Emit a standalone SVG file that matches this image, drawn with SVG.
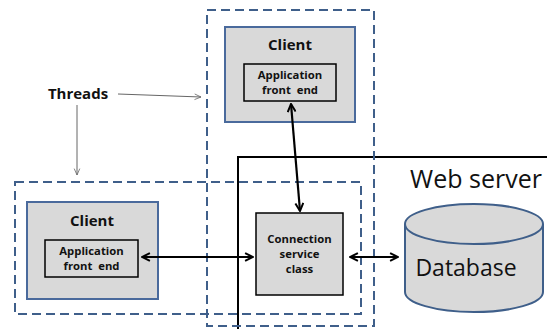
<svg xmlns="http://www.w3.org/2000/svg" width="547" height="329" viewBox="0 0 547 329">
<style>
.dash{fill:none;stroke:#3f5f8a;stroke-width:2;stroke-dasharray:9 5}
.client{fill:#d9d9d9;stroke:#4a6a9c;stroke-width:2}
.inner{fill:#d9d9d9;stroke:#000;stroke-width:1.5}
.t{font-family:"Open Sans","Liberation Sans",sans-serif;font-weight:bold;fill:#111;text-anchor:middle}
.big{font-family:"Open Sans","Liberation Sans",sans-serif;fill:#111;text-anchor:middle}
.con{fill:none;stroke:#000;stroke-width:2.2}
.thin{fill:none;stroke:#666;stroke-width:1}
</style>
<defs>
<marker id="ah" viewBox="0 0 10 10" refX="9" refY="5" markerWidth="4.5" markerHeight="4.5" orient="auto-start-reverse" markerUnits="strokeWidth">
<path d="M1,1 L9,5 L1,9" fill="none" stroke="#000" stroke-width="2"/>
</marker>
<marker id="th" viewBox="0 0 10 10" refX="9" refY="5" markerWidth="8" markerHeight="8" orient="auto" markerUnits="strokeWidth">
<path d="M1,1.5 L9,5 L1,8.5" fill="none" stroke="#666" stroke-width="1"/>
</marker>
</defs>
<rect width="547" height="329" fill="#fff"/>
<g id="webserver">
<path d="M238,329 V157 H547" fill="none" stroke="#000" stroke-width="2"/>
<text x="476" y="188" class="big" font-size="25">Web server</text>
</g>
<g id="thread-top"><rect x="207" y="10" width="167" height="316" class="dash"/></g>
<g id="thread-left"><rect x="15" y="182" width="346" height="132" class="dash"/></g>
<g id="client-top">
<rect x="225" y="27" width="130" height="95" class="client"/>
<text x="290" y="50" class="t" font-size="15">Client</text>
<rect x="244" y="64" width="92" height="37" class="inner"/>
<text x="290" y="79" class="t" font-size="11.3">Application</text>
<text x="290" y="94" class="t" font-size="11.3" xml:space="preserve">front  end</text>
</g>
<g id="client-left">
<rect x="27" y="202" width="131" height="97" class="client"/>
<text x="92" y="226" class="t" font-size="15">Client</text>
<rect x="45" y="240" width="93" height="37" class="inner"/>
<text x="91.5" y="255" class="t" font-size="11.3">Application</text>
<text x="91.5" y="270" class="t" font-size="11.3" xml:space="preserve">front  end</text>
</g>
<g id="connection">
<rect x="256" y="213" width="87" height="82" class="inner" stroke-width="2"/>
<text x="299.5" y="243" class="t" font-size="11.3">Connection</text>
<text x="299.5" y="258" class="t" font-size="11.3">service</text>
<text x="299.5" y="273" class="t" font-size="11.3">class</text>
</g>
<g id="database">
<path d="M405,224 V292 A69,20 0 0 0 543,292 V224" fill="#d9d9d9" stroke="#3f5f8a" stroke-width="2"/>
<ellipse cx="474" cy="224" rx="69" ry="20" fill="#d9d9d9" stroke="#3f5f8a" stroke-width="2"/>
<text x="466" y="276" class="big" font-size="23">Database</text>
</g>
<g id="threads-label">
<text x="78" y="99" class="t" font-size="15">Threads</text>
</g>
<g id="connectors">
<line x1="291" y1="104" x2="300" y2="211" class="con" marker-start="url(#ah)" marker-end="url(#ah)"/>
<line x1="142" y1="257" x2="253" y2="257" class="con" marker-start="url(#ah)" marker-end="url(#ah)"/>
<line x1="350" y1="257" x2="398" y2="257" class="con" marker-start="url(#ah)" marker-end="url(#ah)"/>
<line x1="118" y1="94" x2="201" y2="97" class="thin" marker-end="url(#th)"/>
<line x1="77" y1="105" x2="77" y2="175" class="thin" marker-end="url(#th)"/>
</g>
</svg>
